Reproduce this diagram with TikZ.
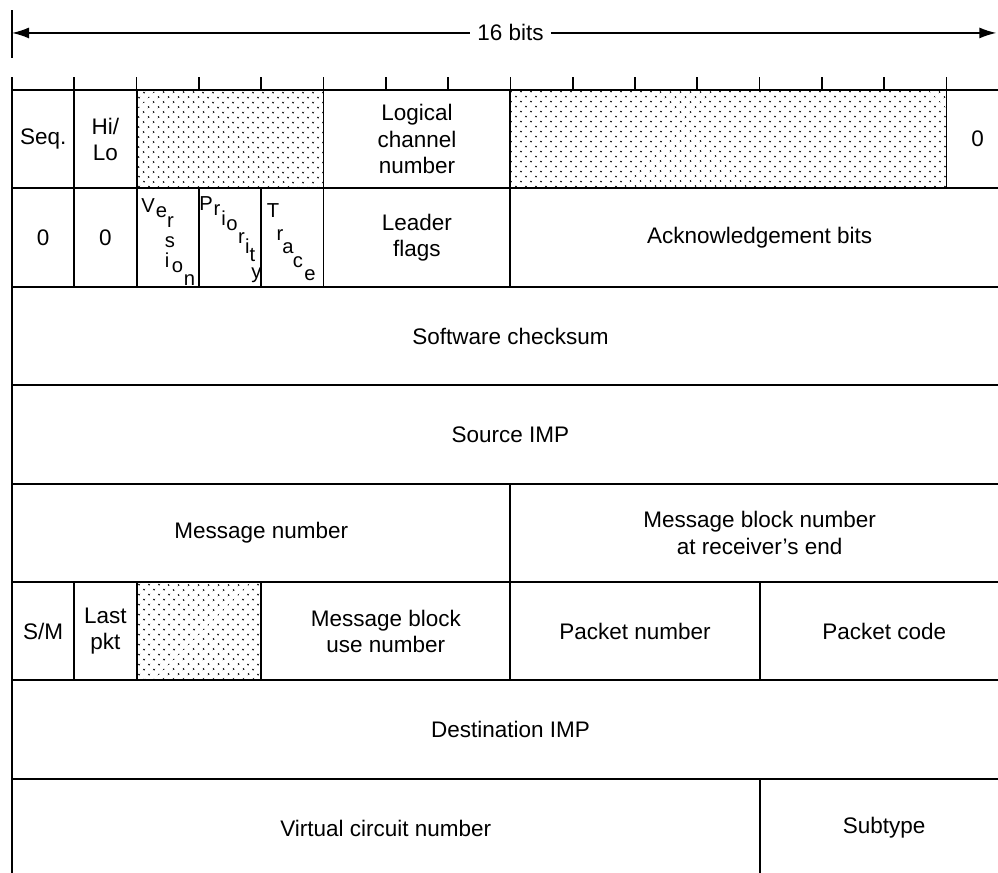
\documentclass[tikz,border=0pt]{standalone}
\usepackage{fontspec}
\setmainfont{Liberation Sans}
\usetikzlibrary{arrows.meta,patterns.meta}

\newcommand{\fieldfont}{\fontsize{12.8}{15}\selectfont}
\newcommand{\letterfont}{\fontsize{11.5}{13}\selectfont}
\tikzset{
  field/.style={draw, line width=1.1pt},
  shaded/.style={field, pattern={Dots[distance=4pt,angle=45,radius=0.6pt]}, pattern color=black!85},
  fieldtext/.style={align=center, font=\fieldfont},
  letter/.style={anchor=base, inner sep=0pt, font=\letterfont},
  widthtip/.style={-{Latex[length=3.4mm,width=2.2mm]}, line width=0.8pt},
}

\begin{document}
\begin{tikzpicture}[x=1.246cm, y=-1.968cm]
\useasboundingbox (-0.193,-0.915) rectangle (15.827,7.957);
\clip (-0.193,-0.915) rectangle (15.827,7.957);

% Word width
\draw[line width=1pt] (0,-0.81) -- (0,-0.33);
\node[font=\fieldfont, fill=white, inner xsep=4pt] (width) at (8,-0.58) {16 bits};
\coordinate (wl) at (0,-0.58);
\coordinate (wr) at (15.8,-0.58);
\draw[widthtip] (width) -- (wl);
\draw[widthtip] (width) -- (wr);

% Bit ticks
\foreach \b in {0,...,15}
  \draw[line width=1pt] (\b,-0.13) -- (\b,0);

% Unused fields
\foreach \a/\b/\r in {2/5/0, 8/15/0, 2/4/5}
  \draw[shaded] (\a,\r) rectangle (\b,\r+1);

% Fields: first bit / last bit / row / name / text
\foreach \a/\b/\r/\n/\txt in {
  0/1/0/seq/{Seq.},
  1/2/0/hilo/{Hi/\\Lo},
  5/8/0/lcn/{Logical\\channel\\number},
  15/16/0/zero/{0},
  0/1/1/zeroa/{0},
  1/2/1/zerob/{0},
  5/8/1/ldr/{Leader\\flags},
  8/16/1/ack/{Acknowledgement bits},
  0/16/2/chk/{Software checksum},
  0/16/3/src/{Source IMP},
  0/8/4/msg/{Message number},
  8/16/4/blk/{Message block number\\at receiver's end},
  0/1/5/sm/{S/M},
  1/2/5/last/{Last\\pkt},
  4/8/5/use/{Message block\\use number},
  8/12/5/pkt/{Packet number},
  12/16/5/code/{Packet code},
  0/16/6/dst/{Destination IMP},
  0/12/7/vc/{Virtual circuit number},
  12/16/7/sub/{Subtype}}
{
  \draw[field] (\a,\r) rectangle (\b,\r+1);
  \node[fieldtext] (\n) at ({(\a+\b)/2},\r+0.5) {\txt};
}

% Staggered one-bit fields (letter / x px / baseline px)
\foreach \a in {2,3,4}
  \draw[field] (\a,1) rectangle (\a+1,2);
\foreach \ch/\px/\py [count=\k] in {V/148/212, e/161.5/217, r/170.5/227, s/170/247, i/167/267, o/177.5/272, n/189.5/285}
  \node[letter] (ver\k) at ({(\px-12)/62.3},{(\py-90)/98.4}) {\ch};
\foreach \ch/\px/\py [count=\k] in {P/206/210, r/217/215, i/223.5/225, o/232/230, r/241.5/243, i/247.3/253, t/252.5/261, y/256.5/278.5}
  \node[letter] (pri\k) at ({(\px-12)/62.3},{(\py-90)/98.4}) {\ch};
\foreach \ch/\px/\py [count=\k] in {T/273/217, r/280/240, a/288/253, c/298/267, e/310/280}
  \node[letter] (trc\k) at ({(\px-12)/62.3},{(\py-90)/98.4}) {\ch};
\end{tikzpicture}
\end{document}
